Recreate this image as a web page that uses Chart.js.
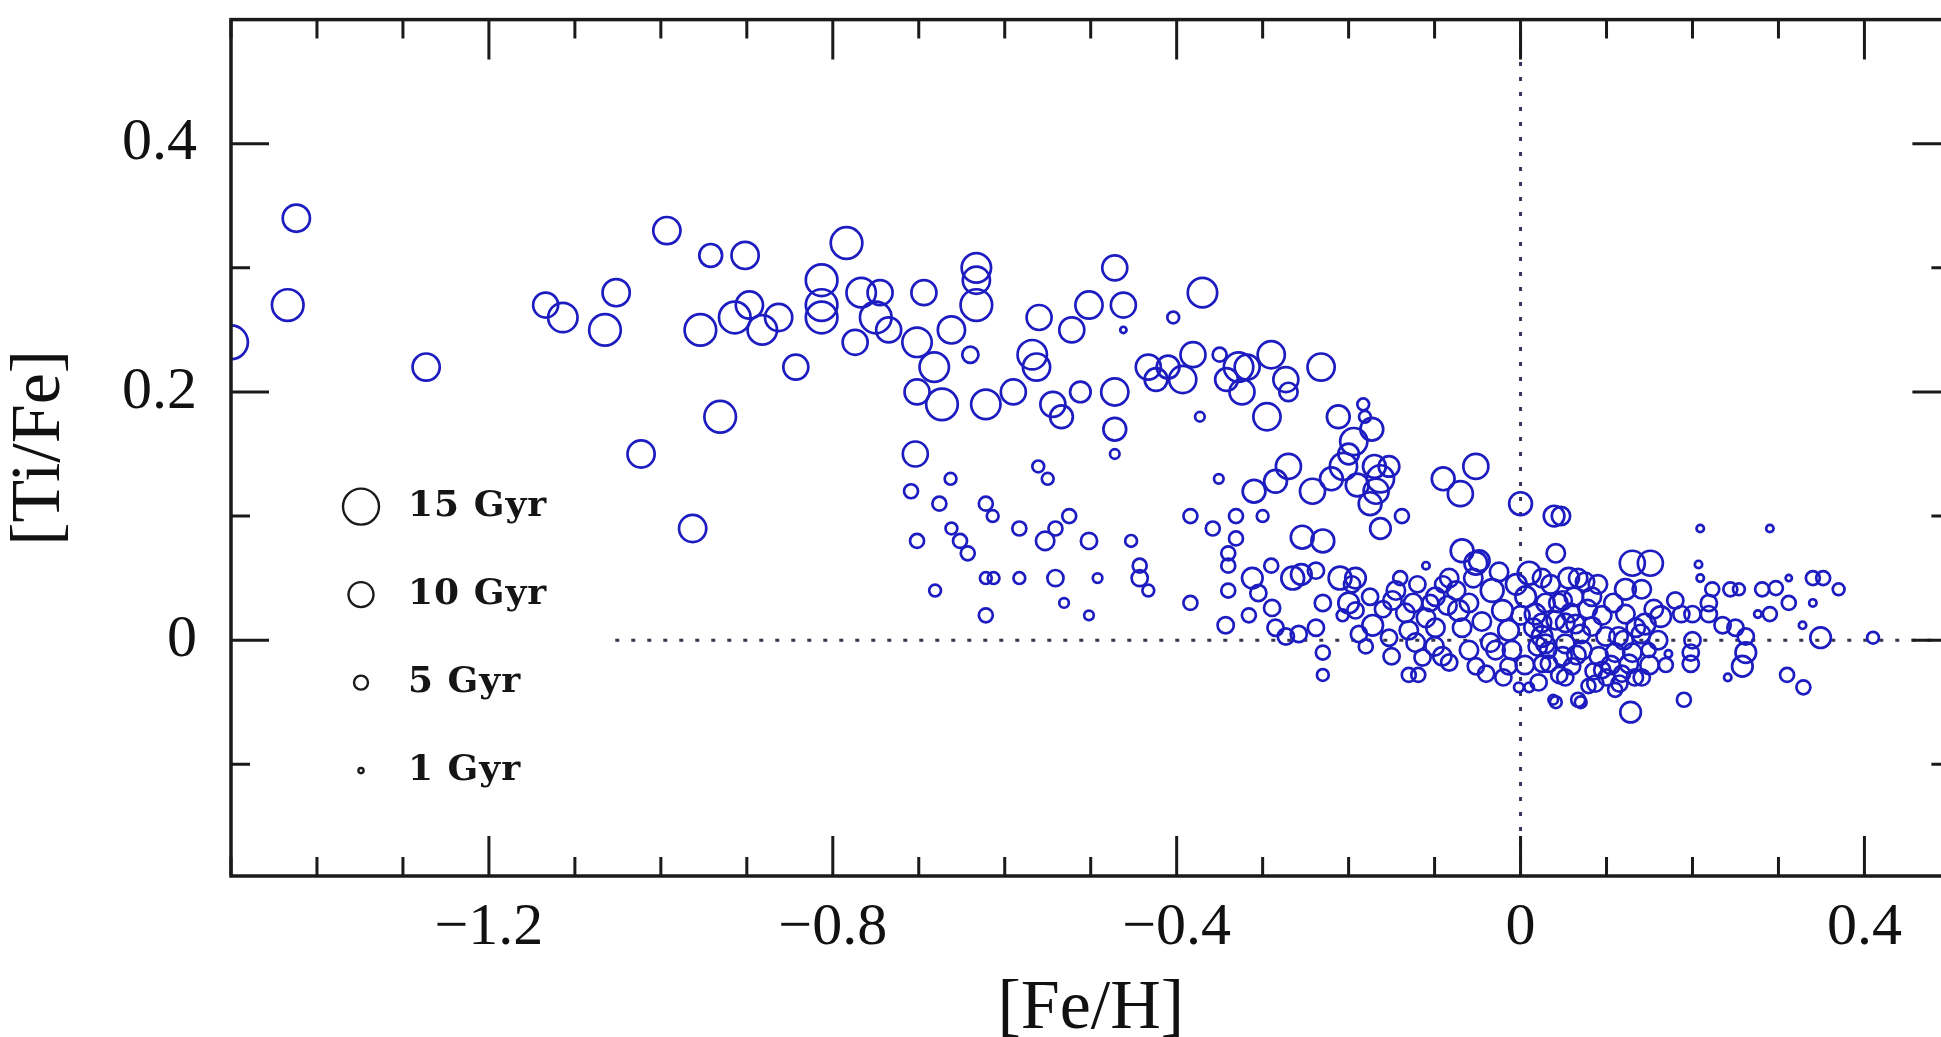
<!DOCTYPE html>
<html><head><meta charset="utf-8">
<script src="https://cdn.jsdelivr.net/npm/chart.js@4.4.1/dist/chart.umd.min.js"></script>
<style>html,body{margin:0;padding:0;overflow:hidden;background:#fff}canvas{display:block}</style>
</head><body>
<canvas id="c" width="1970" height="1060"></canvas>
<script>
// [Fe/H], [Ti/Fe], age (Gyr)
const thickDisk = [
[-1.50,0.24,14],[-1.424,0.34,11],[-1.434,0.27,13],[-1.273,0.22,11],[-1.134,0.27,10],[-1.114,0.26,12],
[-1.065,0.25,13],[-1.052,0.28,11],[-1.023,0.15,11],[-0.993,0.33,11],[-0.963,0.09,11],[-0.954,0.25,13],
[-0.942,0.31,9],[-0.931,0.18,13],[-0.914,0.26,13],[-0.902,0.31,11],[-0.897,0.27,11],[-0.882,0.25,12],
[-0.863,0.26,11],[-0.843,0.22,10],[-0.813,0.29,13],[-0.813,0.27,13],[-0.813,0.26,13],[-0.784,0.32,13],
[-0.774,0.24,10],[-0.767,0.28,12],[-0.75,0.26,13],[-0.745,0.28,10],[-0.735,0.25,10],[-0.702,0.24,12],
[-0.694,0.28,10],[-0.704,0.15,10],[-0.682,0.22,12],[-0.702,0.20,10],[-0.673,0.19,13],[-0.662,0.25,11],
[-0.633,0.30,12],[-0.633,0.29,11],[-0.633,0.27,13],[-0.64,0.23,6],[-0.622,0.19,12],[-0.59,0.20,10],
[-0.56,0.26,10],[-0.568,0.23,12],[-0.563,0.22,11],[-0.544,0.19,10],[-0.534,0.18,9],[-0.522,0.25,10],
[-0.512,0.20,8],[-0.502,0.27,11],[-0.472,0.30,10],[-0.472,0.20,11],[-0.472,0.17,9],[-0.462,0.27,10],
[-0.472,0.15,3],[-0.462,0.25,1.5],[-0.433,0.22,10],[-0.424,0.21,9],[-0.41,0.22,9],[-0.404,0.26,4],
[-0.393,0.21,11],[-0.381,0.23,10],[-0.37,0.28,12],[-0.373,0.18,3],[-0.35,0.23,5],[-0.342,0.21,9],
[-0.328,0.22,12],[-0.324,0.20,10],[-0.318,0.22,10],[-0.29,0.23,11],[-0.295,0.18,11],[-0.273,0.21,10],
[-0.27,0.20,7],[-0.232,0.22,11],[-0.212,0.18,9],[-0.183,0.19,4],[-0.181,0.18,4],[-0.173,0.17,9],
[-0.194,0.16,11],[-0.206,0.14,11],[-0.22,0.13,9],[-0.17,0.14,9],[-0.163,0.13,11],[-0.153,0.14,8],
[-0.052,0.14,10],[-0.27,0.14,10],[-0.19,0.125,9],[-0.175,0.11,9],[-0.2,0.15,8]
];
const lowBand = [
[-0.709,0.12,5],[-0.663,0.13,4],[-0.676,0.11,5],[-0.702,0.08,5],[-0.662,0.09,4],[-0.652,0.08,5],
[-0.643,0.07,5],[-0.622,0.11,5],[-0.614,0.10,4],[-0.681,0.04,4],[-0.622,0.05,4],[-0.613,0.05,4],
[-0.622,0.02,5],[-0.583,0.09,5],[-0.583,0.05,4],[-0.561,0.14,4],[-0.55,0.13,4],[-0.553,0.08,7],
[-0.541,0.09,5],[-0.525,0.10,5],[-0.541,0.05,6],[-0.531,0.03,3],[-0.502,0.08,6],[-0.492,0.05,3],
[-0.502,0.02,3],[-0.453,0.08,4],[-0.443,0.06,5],[-0.443,0.05,6],[-0.433,0.04,4],[-0.384,0.10,5],
[-0.384,0.03,5]
];
const solarCore = [
[-0.351,0.13,3],[-0.31,0.12,9],[-0.285,0.128,9],[-0.242,0.12,10],[-0.168,0.12,10],[-0.163,0.09,8],
[-0.138,0.10,5],[-0.09,0.13,9],[-0.07,0.118,10],[0.0,0.11,9],[-0.358,0.09,5],[-0.331,0.10,5],
[-0.30,0.10,4],[-0.331,0.082,5],[-0.34,0.07,5],[-0.34,0.06,5],[-0.254,0.083,9],[-0.23,0.08,9],
[-0.34,0.04,5],[-0.343,0.012,6],[-0.312,0.05,8],[-0.29,0.06,5],[-0.305,0.038,6],[-0.289,0.026,6],
[-0.285,0.01,6],[-0.316,0.02,5],[-0.265,0.05,9],[-0.255,0.053,8],[-0.238,0.056,6],[-0.273,0.003,6],
[-0.258,0.005,6],[-0.238,0.01,6],[-0.23,0.03,6],[-0.23,-0.01,5],[-0.23,-0.028,4],[-0.192,0.05,8],
[-0.196,0.045,6],[-0.207,0.02,4],[-0.192,0.024,6],[-0.188,0.005,6],[-0.172,0.012,8],[-0.149,0.032,7],
[-0.134,0.022,7],[-0.13,0.008,7],[-0.122,-0.002,7],[-0.114,-0.014,6],[-0.13,-0.028,5],[-0.119,-0.028,5],
[-0.11,0.06,2],[-0.099,0.035,7],[-0.083,0.05,7],[-0.068,0.072,9],[-0.052,0.062,9],[-0.048,0.064,8],
[-0.072,0.024,8],[-0.068,0.01,7],[-0.06,-0.008,7],[-0.052,-0.021,6],[-0.04,-0.027,6],[-0.033,0.04,9],
[-0.021,0.024,8],[-0.014,0.008,8],[-0.01,-0.008,7],[0.01,0.054,9],[0.006,0.035,8],[0.017,0.021,8],
[0.025,0.003,8],[-0.002,-0.038,3],[0.01,-0.038,3],[0.038,-0.048,3],[0.049,0.032,7],[0.052,0.014,7],
[0.049,-0.013,7],[0.052,-0.03,6],[-0.153,0.002,6],[-0.15,-0.013,6],[-0.099,0.01,7],[-0.091,-0.013,7],
[-0.083,-0.018,6],[-0.029,-0.008,7],[-0.014,-0.021,6],[0.025,-0.019,6],[0.032,-0.008,6],[-0.12,0.045,6],
[-0.14,0.05,5],[-0.105,0.03,6],[-0.21,0.05,9],[-0.2,0.03,8],
[-0.145,0.04,7],[-0.125,0.03,7],[-0.11,0.018,7],[-0.1,-0.005,7],[-0.085,0.028,7],[-0.075,0.04,7],
[-0.06,0.03,7],[-0.045,0.015,7],[-0.035,-0.002,7],[-0.02,-0.03,6],[-0.005,0.045,8],[0.0,0.02,7],
[0.005,-0.02,7],[0.015,0.01,7],[0.02,-0.005,7],[-0.09,0.045,6],[-0.055,0.05,7],[-0.025,0.055,7],
[-0.16,0.025,6],[-0.175,0.035,6],[-0.18,-0.005,5]
];
const metalRich = [
[0.039,0.10,8],[0.047,0.10,7],[0.041,0.07,7],[0.13,0.062,10],[0.151,0.062,10],[0.122,0.041,8],
[0.141,0.041,7],[0.209,0.09,2],[0.29,0.09,2],[0.207,0.061,2],[0.209,0.05,2],[0.223,0.041,5],
[0.244,0.041,5],[0.254,0.041,4],[0.281,0.041,5],[0.297,0.042,5],[0.312,0.03,5],[0.312,0.05,1.5],
[0.34,0.05,5],[0.352,0.05,5],[0.37,0.041,4],[0.34,0.03,2],[0.29,0.021,5],[0.276,0.021,2],
[0.328,0.012,2],[0.349,0.002,8],[0.41,0.002,4],[0.18,0.032,6],[0.2,0.021,6],[0.187,0.021,6],
[0.219,0.03,6],[0.219,0.021,6],[0.235,0.012,6],[0.25,0.01,6],[0.262,0.003,6],[0.262,-0.01,8],
[0.258,-0.021,8],[0.2,0.0,6],[0.198,-0.01,6],[0.198,-0.019,6],[0.172,-0.011,2],[0.169,-0.02,5],
[0.149,-0.008,5],[0.163,0.019,8],[0.145,0.013,8],[0.122,0.021,7],[0.134,0.01,7],[0.241,-0.03,2],
[0.31,-0.028,5],[0.329,-0.038,5],[0.19,-0.048,5],[0.128,-0.058,8],[0.067,-0.048,5],[0.11,-0.04,5],
[0.079,-0.037,5],[0.141,-0.03,6],[0.1,-0.03,6],[0.025,0.05,7],[0.056,0.05,8],[0.075,0.047,7],
[0.083,0.035,7],[0.062,0.035,7],[0.029,0.03,7],[0.041,0.016,7],[0.064,0.013,7],[0.083,0.011,7],
[0.099,0.003,7],[0.114,0.003,7],[0.029,-0.003,7],[0.052,-0.003,7],[0.072,-0.008,7],[0.091,-0.013,7],
[0.11,-0.01,7],[0.126,-0.019,7],[0.033,-0.019,6],[0.06,-0.021,6],[0.095,-0.024,6],[0.118,-0.027,6],
[0.133,-0.03,6],[0.087,-0.035,6],[0.021,-0.034,6],[0.025,0.014,7],[0.044,0.03,7],
[0.035,0.045,7],[0.045,-0.028,6],[0.058,0.022,7],[0.065,-0.012,7],[0.07,0.005,7],[0.078,0.025,7],
[0.085,-0.025,6],[0.09,0.045,7],[0.095,0.02,7],[0.105,-0.02,7],[0.108,0.03,7],[0.115,-0.035,6],
[0.12,0.0,7],[0.13,-0.01,7],[0.14,0.005,7],[0.15,-0.02,7],[0.155,0.025,7],[0.16,0.0,7],
[0.067,0.05,7],[0.041,-0.05,4],[0.07,-0.05,4]
];
const legendAges = [15, 10, 5, 1];
const legendLabels = ['15 Gyr', '10 Gyr', '5 Gyr', '1 Gyr'];
const xTitle = '[Fe/H]';
const yTitle = '[Ti/Fe]';
const X_MIN = -1.5, X_MAX = 0.5, Y_MIN = -0.19, Y_MAX = 0.5;
const zeroLineFrom = -1.053;

const stars = thickDisk.concat(lowBand, solarCore, metalRich);
const points = stars.map(s => ({x: s[0], y: s[1]}));
const ages = stars.map(s => s[2]);
const rad = a => 1.1 * a + 1.5;
const BLUE = 'rgb(28,28,192)';
const SERIF = '"Liberation Serif", "Times New Roman", serif';
const fmt = v => (Math.abs(v) < 1e-9 ? '0' : String(Math.round(v * 10) / 10)).replace('-', '\u2212');

const frameTicks = {
  id: 'frameTicks',
  afterDraw(chart) {
    const {ctx, chartArea: a, scales: {x, y}} = chart;
    ctx.save();
    ctx.strokeStyle = '#1a1a1a';
    ctx.lineWidth = 3;
    ctx.beginPath();
    x.ticks.forEach(t => {
      const v = t.value, n = Math.round(v * 10);
      if (Math.abs(v * 10 - n) > 1e-6 || v < X_MIN - 1e-9 || v > X_MAX + 1e-9) return;
      const L = (n % 4 === 0) ? 40 : 19;
      const p = x.getPixelForValue(v);
      ctx.moveTo(p, a.bottom); ctx.lineTo(p, a.bottom - L);
      ctx.moveTo(p, a.top); ctx.lineTo(p, a.top + L);
    });
    y.ticks.forEach(t => {
      const v = t.value, n = Math.round(v * 10);
      if (Math.abs(v * 10 - n) > 1e-6 || v < Y_MIN - 1e-9 || v > Y_MAX + 1e-9) return;
      const L = (n % 2 === 0) ? 38 : 19;
      const p = y.getPixelForValue(v);
      ctx.moveTo(a.left, p); ctx.lineTo(a.left + L, p);
      ctx.moveTo(a.right, p); ctx.lineTo(a.right - L, p);
    });
    ctx.stroke();
    ctx.lineWidth = 3.5;
    ctx.strokeRect(a.left, a.top, a.right - a.left, a.bottom - a.top);
    // age legend
    const lx = a.left + 130, ly0 = a.top + 487, dy = 88;
    legendAges.forEach((age, i) => {
      const cy = ly0 + i * dy;
      ctx.beginPath();
      ctx.lineWidth = 2.4;
      ctx.strokeStyle = '#1a1a1a';
      ctx.arc(lx, cy, rad(age), 0, Math.PI * 2);
      ctx.stroke();
      ctx.fillStyle = '#151515';
      ctx.font = 'bold 36px "DejaVu Serif", serif';
      ctx.letterSpacing = '1px';
      ctx.textAlign = 'left';
      ctx.textBaseline = 'middle';
      ctx.fillText(legendLabels[i], lx + 47, cy);
    });
    ctx.restore();
  }
};

new Chart(document.getElementById('c'), {
  type: 'scatter',
  data: {
    datasets: [
      {
        data: points,
        pointRadius: c => (c.dataIndex === undefined ? 3 : rad(ages[c.dataIndex])),
        pointHoverRadius: c => (c.dataIndex === undefined ? 3 : rad(ages[c.dataIndex])),
        borderColor: BLUE,
        backgroundColor: 'rgba(0,0,0,0)',
        pointBorderWidth: 2.7,
        showLine: false,
        clip: 0,
        order: 1
      },
      {
        type: 'line',
        data: [{x: zeroLineFrom, y: 0}, {x: X_MAX, y: 0}],
        borderColor: '#34344a',
        borderWidth: 3,
        borderDash: [4, 12],
        pointRadius: 0,
        fill: false,
        order: 2
      },
      {
        type: 'line',
        data: [{x: 0, y: Y_MIN}, {x: 0, y: Y_MAX}],
        borderColor: '#33335e',
        borderWidth: 3,
        borderDash: [4, 11],
        pointRadius: 0,
        fill: false,
        order: 2
      }
    ]
  },
  options: {
    responsive: false,
    animation: false,
    devicePixelRatio: 1,
    events: [],
    layout: {padding: {top: 15, right: 15, left: 0, bottom: 0}},
    plugins: {legend: {display: false}, tooltip: {enabled: false}},
    scales: {
      x: {
        type: 'linear', min: X_MIN, max: X_MAX,
        grid: {display: false, drawTicks: false}, border: {display: false},
        ticks: {
          stepSize: 0.1, autoSkip: false, maxRotation: 0, minRotation: 0, includeBounds: false,
          padding: 16, color: '#111', font: {family: SERIF, size: 60},
          callback: v => { const n = Math.round(v * 10); if (Math.abs(v * 10 - n) > 1e-6 || n % 4 !== 0 || v < X_MIN || v > X_MAX) return ''; return fmt(v); }
        },
        title: {display: true, text: xTitle, color: '#111', font: {family: SERIF, size: 70, lineHeight: 1}, padding: {top: 0, bottom: 15}},
        afterFit: s => { s.height = 184; s.paddingLeft = 0; s.paddingRight = 0; }
      },
      y: {
        type: 'linear', min: Y_MIN, max: Y_MAX,
        grid: {display: false, drawTicks: false}, border: {display: false},
        ticks: {
          stepSize: 0.1, autoSkip: false, includeBounds: false,
          padding: 34, color: '#111', font: {family: SERIF, size: 60},
          callback: v => { const n = Math.round(v * 10); if (Math.abs(v * 10 - n) > 1e-6 || n % 2 !== 0 || v < Y_MIN || v > Y_MAX) return ''; return fmt(v); }
        },
        title: {display: true, text: yTitle, color: '#111', font: {family: SERIF, size: 70, lineHeight: 1}, padding: {top: 6, bottom: 0}},
        afterFit: s => { s.width = 231; s.paddingTop = 0; s.paddingBottom = 0; }
      }
    }
  },
  plugins: [frameTicks]
});
</script>
</body></html>
